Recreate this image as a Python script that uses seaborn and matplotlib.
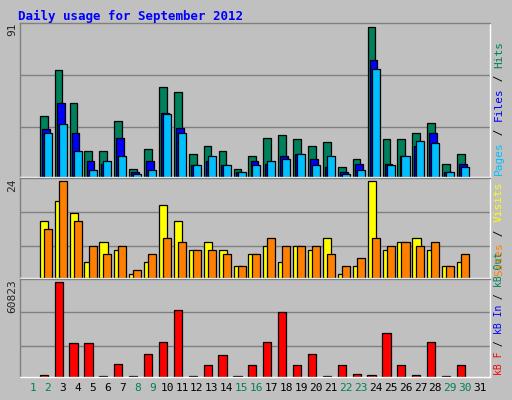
import matplotlib
matplotlib.use("Agg")
import matplotlib.pyplot as plt
import seaborn as sns
import numpy as np

sns.set_theme(style="white")
plt.rcParams['font.family'] = ['DejaVu Sans Mono', 'DejaVu Sans']

days = list(range(1, 32))
hits  = [0,37,65,45,16,16,34,5,17,55,52,14,19,16,5,13,24,25.5,23,19,21,6,11,91,23,23,27,33,8,14,0]
files = [0,29,45,27,9.5,8,24,3,9.5,39,30,7,9.5,7,3,9.5,8,12.5,14,11,6,3,8,71,8,12.5,19,27,3,8,0]
pages = [0,27,32,16,4.5,9.5,13,1.6,4.5,38.5,27,7.6,12.5,7.6,3,7.6,9.5,11,14,7.6,12.5,1.6,4.5,66,7.6,13,22,20.6,3,5.8,0]
visits = [0,14,19,16,4,9,7,1,4,18,14,7,9,7,3,6,8,4,8,7,10,1,3,24,7,9,10,7,3,4,0]
sites  = [0,12,24,14,8,6,8,2,6,10,9,7,7,6,3,6,10,8,8,8,6,3,5,10,8,9,8,9,3,6,0]
kbytes = [0,1550,60823,21500,21500,900,8200,900,14900,22200,42800,900,7500,14200,900,7500,
          22200,41500,7500,14900,900,7500,2200,1550,28200,7500,1550,22200,900,7500,0]
weekend = {1,2,8,9,15,16,22,23,29,30}

bg = '#c0c0c0'
fig = plt.figure(figsize=(5.12, 4.0), dpi=100, facecolor=bg)
x = np.array(days, dtype=float)
xlim = (0.13, 31.67)

def mk(rect, top, grids):
    ax = fig.add_axes(rect, facecolor=bg)
    ax.set_xlim(*xlim); ax.set_ylim(0, top * 1.03)
    for g in grids:
        ax.axhline(g, color='#808080', lw=1, zorder=0)
    ax.set_xticks([]); ax.set_yticks([])
    for s in ax.spines.values():
        s.set_color('white'); s.set_linewidth(1)
    ax.spines['left'].set_color('#808080'); ax.spines['top'].set_color('#808080')
    return ax

def bars(ax, vals, off, w, color):
    v = np.array(vals, dtype=float)
    m = v > 0
    ax.bar(x[m] + off, v[m], width=w, align='edge', color=color, edgecolor='black', lw=0.9, zorder=2)

a1 = mk([0.039, 0.5575, 0.918, 0.385], 91, [30.5, 61.8])
bars(a1, hits, -0.54, 0.52, '#00805c')
bars(a1, files, -0.40, 0.52, '#0000ff')
bars(a1, pages, -0.27, 0.54, '#00bfff')

a2 = mk([0.039, 0.305, 0.918, 0.25], 24, [7.9, 16.4])
bars(a2, visits, -0.54, 0.55, '#ffff00')
bars(a2, sites, -0.27, 0.54, '#ff8000')

a3 = mk([0.039, 0.0575, 0.918, 0.245], 60823, [19500, 41500])
bars(a3, kbytes, -0.55, 0.55, '#ff0000')

fig.text(0.035, 0.96, 'Daily usage for September 2012', color='#0000ff', fontsize=9,
         fontweight='bold', ha='left', va='center')
for ax, lab in [(a1, '91'), (a2, '24'), (a3, '60823')]:
    ax.text(-0.006, 1.0, lab, transform=ax.transAxes, rotation=90, ha='right', va='top', fontsize=8)

for d in days:
    fig.text((d - xlim[0]) / (xlim[1] - xlim[0]) * 0.918 + 0.039, 0.03, str(d),
             color='#00805c' if d in weekend else 'black', fontsize=8, ha='center', va='center')

def rlab(ax, parts, fs):
    pos = ax.get_position()
    cw = 0.602 * fs * 100 / 72 / 400.0  # char height along y in figure fraction
    y = pos.y0 + 0.005
    for txt, col in parts:
        fig.text(pos.x1 + 0.008, y, txt, rotation=90, ha='left', va='bottom',
                 color=col, fontsize=fs)
        y += len(txt) * cw
rlab(a1, [('Pages', '#00bfff'), (' / ', 'black'), ('Files', '#0000ff'), (' / ', 'black'), ('Hits', '#00805c')], 8)
rlab(a2, [('Sites', '#ff8000'), (' / ', 'black'), ('Visits', '#ffff00')], 8)
rlab(a3, [('kB F', '#ff0000'), (' / ', 'black'), ('kB In', '#0000ff'), (' / ', 'black'), ('kB Out', '#00805c')], 7)

fig.savefig('out.png', dpi=100, facecolor=bg)
